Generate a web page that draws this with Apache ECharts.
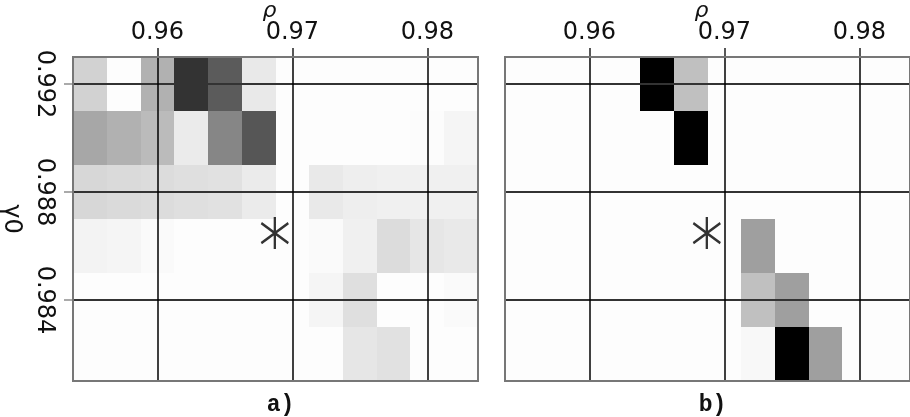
<!DOCTYPE html>
<html>
<head>
<meta charset="utf-8">
<script src="https://cdn.jsdelivr.net/npm/echarts@6/dist/echarts.min.js"></script>
<style>html,body{margin:0;padding:0;background:#fff}#c{width:910px;height:417px}</style>
</head>
<body>
<div id="c"></div>
<script>
// ---- data ----
const rhoCenters = [0.955, 0.9575, 0.96, 0.9625, 0.965, 0.9675, 0.97, 0.9725, 0.975, 0.9775, 0.98, 0.9825];
const gammaCenters = [0.992, 0.990, 0.988, 0.986, 0.984, 0.982];
const rhoTicks = [0.96, 0.97, 0.98];
const gammaTicks = [0.984, 0.988, 0.992];
// darkness (0 = white, 1 = black), rows follow gammaCenters
const panelA = [
  [0.17, 0.00, 0.30, 0.80, 0.64, 0.08, 0.00, 0.00, 0.00, 0.00, 0.00, 0.00],
  [0.34, 0.30, 0.26, 0.07, 0.47, 0.66, 0.00, 0.00, 0.00, 0.00, 0.004, 0.03],
  [0.15, 0.14, 0.13, 0.12, 0.11, 0.07, 0.00, 0.08, 0.06, 0.05, 0.05, 0.05],
  [0.04, 0.03, 0.01, 0.00, 0.00, 0.00, 0.00, 0.01, 0.05, 0.13, 0.09, 0.08],
  [0.00, 0.00, 0.00, 0.00, 0.00, 0.00, 0.00, 0.03, 0.12, 0.00, 0.00, 0.01],
  [0.00, 0.00, 0.00, 0.00, 0.00, 0.00, 0.00, 0.00, 0.09, 0.11, 0.00, 0.00]
];
const panelB = [
  [0, 0, 0, 0, 1.00, 0.24, 0, 0, 0, 0, 0, 0],
  [0, 0, 0, 0, 0, 1.00, 0, 0, 0, 0, 0, 0],
  [0, 0, 0, 0, 0, 0, 0, 0, 0, 0, 0, 0],
  [0, 0, 0, 0, 0, 0, 0, 0.37, 0, 0, 0, 0],
  [0, 0, 0, 0, 0, 0, 0, 0.24, 0.37, 0, 0, 0],
  [0, 0, 0, 0, 0, 0, 0, 0.02, 1.00, 0.37, 0, 0]
];
const starRho = [0.9687];
const starGamma = [0.98648];
const panelLabels = ['a)', 'b)'];
const xName = 'ρ';
const yName = 'γ0';

// ---- build ----
const halfW = (rhoCenters[1] - rhoCenters[0]) / 2;
const halfH = (gammaCenters[0] - gammaCenters[1]) / 2;
const xMin = rhoCenters[0] - halfW, xMax = rhoCenters[rhoCenters.length - 1] + halfW;
const yMin = gammaCenters[gammaCenters.length - 1] - halfH, yMax = gammaCenters[0] + halfH;

function toCells(m) {
  const out = [];
  m.forEach((row, j) => row.forEach((v, i) => out.push([rhoCenters[i], gammaCenters[j], v])));
  return out;
}
function renderItem(params, api) {
  const x = api.value(0), y = api.value(1), v = api.value(2);
  const p0 = api.coord([x - halfW, y + halfH]);
  const p1 = api.coord([x + halfW, y - halfH]);
  const g = Math.round(253 * (1 - v));
  return {
    type: 'rect',
    shape: { x: Math.round(p0[0]), y: Math.round(p0[1]), width: Math.round(p1[0]) - Math.round(p0[0]), height: Math.round(p1[1]) - Math.round(p0[1]) },
    style: { fill: 'rgb(' + g + ',' + g + ',' + g + ')' }
  };
}
const starPath = 'path://M13.5,0 L13.5,32 M0,6 L27,26 M0,26 L27,6';
const tickFont = { fontFamily: 'DejaVu Sans', fontSize: 24, color: '#111' };

function xAxisFor(idx) {
  return {
    gridIndex: idx, type: 'value', position: 'top', min: xMin, max: xMax, z: 10,
    axisLine: { show: false },
    axisTick: { show: true, inside: false, length: 9, customValues: rhoTicks, lineStyle: { color: '#222', width: 1.5 } },
    axisLabel: Object.assign({ customValues: rhoTicks, margin: 12, formatter: v => v.toFixed(2) }, tickFont),
    splitLine: { show: true, lineStyle: { color: '#000', width: 1.5 } }
  };
}
function yAxisFor(idx, labels) {
  return {
    gridIndex: idx, type: 'value', min: yMin, max: yMax, z: 10,
    axisLine: { show: false },
    axisTick: { show: labels, length: 9, customValues: gammaTicks, lineStyle: { color: '#aaa', width: 2 } },
    axisLabel: Object.assign({ show: labels, customValues: gammaTicks, margin: 17, rotate: -90, formatter: v => v.toFixed(3) }, tickFont),
    splitLine: { show: true, lineStyle: { color: '#333', width: 2 } }
  };
}

const grids = [
  { left: 73, top: 57, width: 405, height: 324 },
  { left: 505, top: 57, width: 405, height: 324 }
].map(g => Object.assign(g, { show: true, outerBoundsMode: 'none', containLabel: false, backgroundColor: 'transparent', borderColor: '#777', borderWidth: 2, z: 11 }));

const graphics = grids.map(g => ({
  type: 'text', x: g.left + g.width / 2 - 6, y: 11,
  style: { text: xName, fontFamily: 'DejaVu Sans', fontStyle: 'italic', fontSize: 22, fill: '#111', align: 'center', verticalAlign: 'middle' }
}));
graphics.push({
  type: 'text', x: 11, y: grids[0].top + grids[0].height / 2, rotation: -Math.PI / 2,
  style: { text: yName, fontFamily: 'DejaVu Sans', fontSize: 24, fill: '#111', align: 'center', verticalAlign: 'middle' }
});

const option = {
  animation: false,
  backgroundColor: '#fff',
  title: panelLabels.map((t, i) => ({
    text: t, left: grids[i].left + grids[i].width / 2, top: 389, textAlign: 'center',
    textStyle: { fontFamily: 'Liberation Mono', fontSize: 23, fontWeight: 'bold', color: '#111' }
  })),
  graphic: graphics,
  grid: grids,
  xAxis: [xAxisFor(0), xAxisFor(1)],
  yAxis: [yAxisFor(0, true), yAxisFor(1, false)],
  series: [
    { type: 'custom', xAxisIndex: 0, yAxisIndex: 0, renderItem, data: toCells(panelA), silent: true },
    { type: 'custom', xAxisIndex: 1, yAxisIndex: 1, renderItem, data: toCells(panelB), silent: true },
    ...[0, 1].map(i => ({
      type: 'scatter', xAxisIndex: i, yAxisIndex: i, z: 20,
      symbol: starPath, symbolSize: [27, 32],
      itemStyle: { color: 'none', borderColor: '#000', borderWidth: 2.5 },
      data: starRho.map((r, k) => [r, starGamma[k]])
    }))
  ]
};
const chart = echarts.init(document.getElementById('c'), null, { renderer: 'canvas' });
chart.setOption(option);
</script>
</body>
</html>
